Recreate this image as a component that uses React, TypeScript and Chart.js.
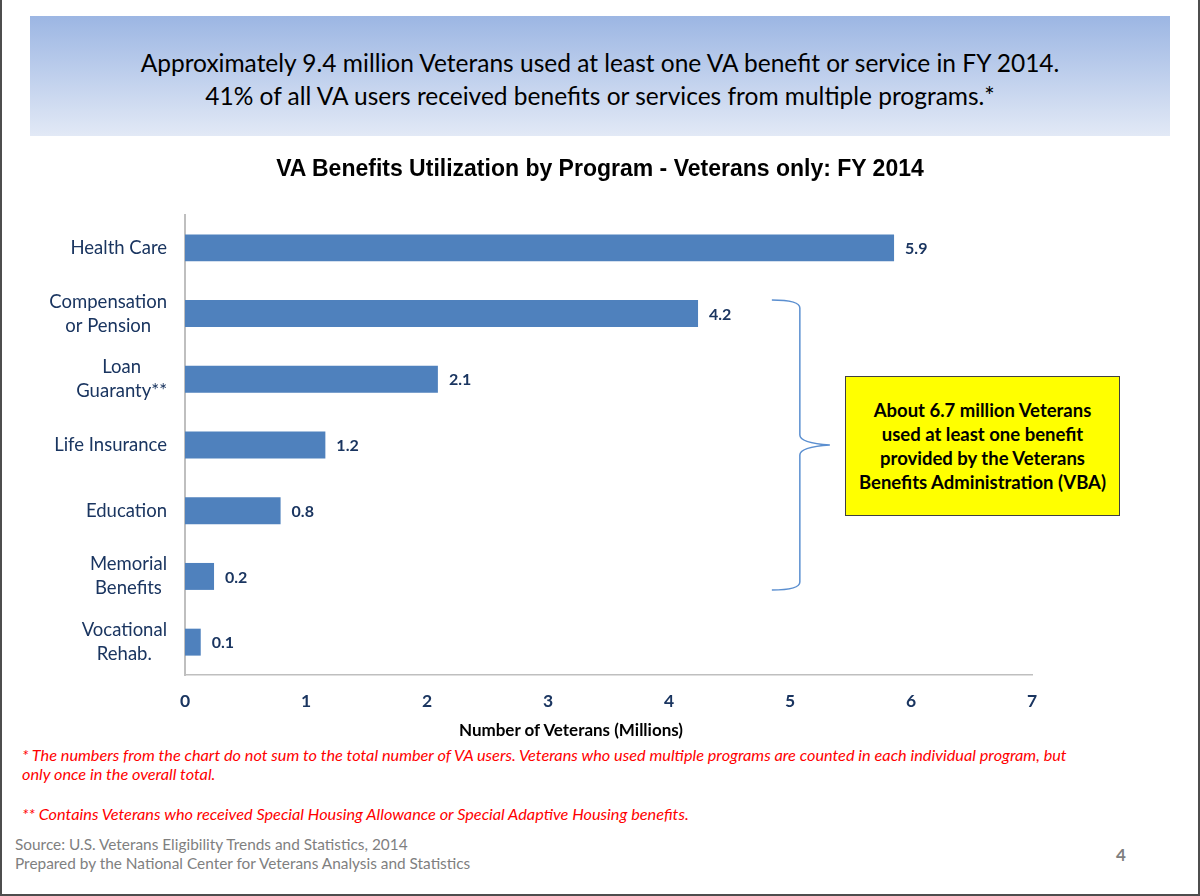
import React, { useEffect, useRef } from "react";
import { Chart, registerables } from "chart.js";

Chart.register(...registerables);

const categories: (string | string[])[] = [
  "Health Care",
  ["Compensation", "or Pension"],
  ["Loan", "Guaranty**"],
  "Life Insurance",
  "Education",
  ["Memorial", "Benefits"],
  ["Vocational", "Rehab."],
];
const veterans: number[] = [5.86, 4.24, 2.09, 1.16, 0.79, 0.24, 0.13];
const xTicks: number[] = [0, 1, 2, 3, 4, 5, 6, 7];

const chartTitle = "VA Benefits Utilization by Program - Veterans only: FY 2014";
const xTitle = "Number of Veterans (Millions)";
const headerLines = [
  "Approximately 9.4 million Veterans used at least one VA benefit or service in FY 2014.",
  "41% of all VA users received benefits or services from multiple programs.*",
];
const boxLines = [
  "About 6.7 million Veterans",
  "used at least one benefit",
  "provided by the Veterans",
  "Benefits Administration (VBA)",
];
const footnote1 = [
  "* The numbers from the chart do not sum to the total number of VA users. Veterans who used multiple programs are counted in each individual program, but",
  "only once in the overall total.",
];
const footnote2 = "** Contains Veterans who received Special Housing Allowance or Special Adaptive Housing benefits.";
const sourceLines = [
  "Source: U.S. Veterans Eligibility Trends and Statistics, 2014",
  "Prepared by the National Center for Veterans Analysis and Statistics",
];

const NAVY = "#1a3560";
const CAL = "Lato, 'Open Sans', sans-serif";

const valueLabels = {
  id: "valueLabels",
  afterDatasetsDraw(chart: any) {
    const ctx = chart.ctx;
    const meta = chart.getDatasetMeta(0);
    ctx.save();
    ctx.font = "bold 16px Lato";
    ctx.fillStyle = NAVY;
    ctx.textAlign = "left";
    ctx.textBaseline = "middle";
    meta.data.forEach((bar: any, i: number) => {
      ctx.fillText(veterans[i].toFixed(1), bar.x + 11, bar.y + 1);
    });
    ctx.restore();
  },
};

// Category labels: right-aligned block, lines centred within the block
const categoryLabels = {
  id: "categoryLabels",
  afterDraw(chart: any) {
    const ctx = chart.ctx;
    const yScale = chart.scales.y;
    const right = yScale.right - 18;
    const lh = 24;
    ctx.save();
    ctx.font = "18.5px Lato";
    ctx.fillStyle = NAVY;
    ctx.textAlign = "center";
    ctx.textBaseline = "middle";
    categories.forEach((c, i) => {
      const lines = Array.isArray(c) ? c : [c];
      const maxW = Math.max(...lines.map((l) => ctx.measureText(l).width));
      const cx = right - maxW / 2;
      const y = yScale.getPixelForValue(i);
      const top = y - (lines.length * lh) / 2;
      lines.forEach((l, j) => {
        ctx.fillText(l, cx, top + lh * (j + 0.5));
      });
    });
    ctx.restore();
  },
};

const bracket = {
  id: "bracket",
  afterDraw(chart: any) {
    const ctx = chart.ctx;
    const meta = chart.getDatasetMeta(0);
    const top = meta.data[1];
    const bot = meta.data[5];
    const y0 = top.y - top.height / 2;
    const y1 = bot.y + bot.height / 2;
    const ym = (y0 + y1) / 2;
    const xs = chart.scales.x.getPixelForValue(4.85);
    const xv = xs + 28;
    const xt = xv + 30;
    ctx.save();
    ctx.strokeStyle = "#5b8fd0";
    ctx.lineWidth = 1.5;
    ctx.beginPath();
    ctx.moveTo(xs, y0);
    ctx.quadraticCurveTo(xv, y0, xv, y0 + 8);
    ctx.lineTo(xv, ym - 10);
    ctx.quadraticCurveTo(xv, ym - 2, xt, ym);
    ctx.quadraticCurveTo(xv, ym + 2, xv, ym + 10);
    ctx.lineTo(xv, y1 - 8);
    ctx.quadraticCurveTo(xv, y1, xs, y1);
    ctx.stroke();
    ctx.restore();
  },
};

function BarChart() {
  const ref = useRef<HTMLCanvasElement | null>(null);
  useEffect(() => {
    if (!ref.current) return;
    const chart = new Chart(ref.current, {
      type: "bar",
      data: {
        labels: categories as any,
        datasets: [
          {
            data: veterans,
            backgroundColor: "#4f81bd",
            borderWidth: 0,
            barPercentage: 0.41,
            categoryPercentage: 1,
          },
        ],
      },
      options: {
        indexAxis: "y",
        animation: false,
        responsive: false,
        devicePixelRatio: 1,
        layout: { padding: { left: 0, right: 168, top: 75, bottom: 0 } },
        plugins: {
          legend: { display: false },
          tooltip: { enabled: false },
          title: { display: false },
        },
        scales: {
          x: {
            min: 0,
            max: 7,
            afterFit: (s: any) => {
              s.height = 70;
            },
            afterBuildTicks: (s: any) => {
              s.ticks = xTicks.map((v) => ({ value: v }));
            },
            grid: { display: false, drawTicks: false },
            border: { display: true, color: "#bfbfbf", width: 1.5 },
            ticks: {
              color: NAVY,
              padding: 16,
              font: { family: CAL, size: 17.5, weight: "bold" },
            },
          },
          y: {
            afterFit: (s: any) => {
              s.width = 185;
            },
            grid: { display: false, drawTicks: false },
            border: { display: true, color: "#bfbfbf", width: 2 },
            ticks: { display: false },
          },
        },
      },
      plugins: [valueLabels, categoryLabels, bracket],
    });
    return () => chart.destroy();
  }, []);
  return (
    <canvas
      ref={ref}
      width={1200}
      height={605}
      style={{ position: "absolute", left: 0, top: 140, width: 1200, height: 605 }}
    />
  );
}

export default function App() {
  return (
    <div
      style={{
        position: "absolute",
        left: 0,
        top: 0,
        width: 1200,
        height: 896,
        background: "#ffffff",
        overflow: "hidden",
        fontFamily: CAL,
      }}
    >
      <div style={{ position: "absolute", left: 0, top: 0, width: 2, height: 896, background: "#4d4d4d" }} />
      <div style={{ position: "absolute", left: 1198, top: 0, width: 2, height: 896, background: "#4d4d4d" }} />
      <div style={{ position: "absolute", left: 0, top: 894, width: 1200, height: 2, background: "#4d4d4d" }} />

      <div
        style={{
          position: "absolute",
          left: 30,
          top: 16,
          width: 1140,
          height: 120,
          background: "linear-gradient(to bottom, #9cb6e3 0%, #e2e9f6 100%)",
        }}
      >
        <div
          style={{
            position: "absolute",
            left: 0,
            top: 29.5,
            width: 1140,
            textAlign: "center",
            fontSize: 24.5,
            lineHeight: "33px",
            color: "#000000",
            whiteSpace: "nowrap",
          }}
        >
          {headerLines.map((l, i) => (
            <div key={i}>{l}</div>
          ))}
        </div>
      </div>

      <BarChart />

      <div
        style={{
          position: "absolute",
          left: 0,
          top: 153,
          width: 1200,
          textAlign: "center",
          fontFamily: "'Liberation Sans', Arial, sans-serif",
          fontWeight: "bold",
          fontSize: 23,
          lineHeight: "30px",
          color: "#000000",
          whiteSpace: "nowrap",
        }}
      >
        {chartTitle}
      </div>

      <div
        style={{
          position: "absolute",
          left: 371,
          top: 720,
          width: 400,
          textAlign: "center",
          fontWeight: "bold",
          fontSize: 17,
          lineHeight: "20px",
          color: "#000000",
          whiteSpace: "nowrap",
        }}
      >
        {xTitle}
      </div>

      <div
        style={{
          position: "absolute",
          left: 845,
          top: 376,
          width: 275,
          height: 140,
          boxSizing: "border-box",
          background: "#ffff00",
          border: "1.5px solid #404040",
          display: "flex",
          flexDirection: "column",
          justifyContent: "center",
          alignItems: "center",
          fontWeight: "bold",
          fontSize: 18.5,
          lineHeight: "24px",
          color: "#000000",
          textAlign: "center",
          whiteSpace: "nowrap",
        }}
      >
        {boxLines.map((l, i) => (
          <div key={i}>{l}</div>
        ))}
      </div>

      <div
        style={{
          position: "absolute",
          left: 22,
          top: 745,
          color: "#ff0000",
          fontStyle: "italic",
          fontSize: 16.3,
          lineHeight: "19px",
          whiteSpace: "nowrap",
        }}
      >
        {footnote1.map((l, i) => (
          <div key={i}>{l}</div>
        ))}
        <div style={{ height: 21 }} />
        <div>{footnote2}</div>
      </div>

      <div
        style={{
          position: "absolute",
          left: 15,
          top: 835,
          color: "#7f7f7f",
          fontSize: 15.4,
          lineHeight: "19px",
          whiteSpace: "nowrap",
        }}
      >
        {sourceLines.map((l, i) => (
          <div key={i}>{l}</div>
        ))}
      </div>

      <div
        style={{
          position: "absolute",
          left: 1116,
          top: 845,
          color: "#7f7f7f",
          fontSize: 17,
          fontWeight: "bold",
          lineHeight: "20px",
        }}
      >
        4
      </div>
    </div>
  );
}
